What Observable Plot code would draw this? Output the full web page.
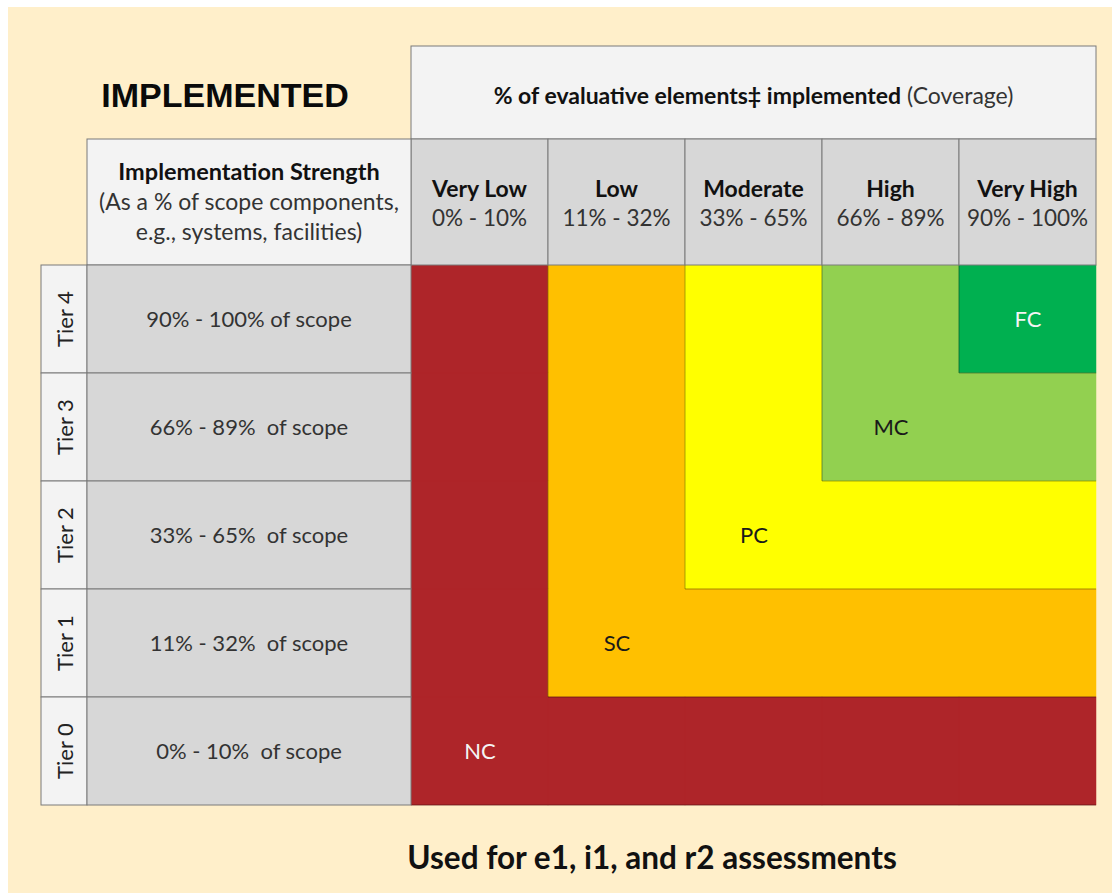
<!DOCTYPE html>
<html><head><meta charset="utf-8">
<script src="https://cdn.jsdelivr.net/npm/d3@7"></script>
<script src="https://cdn.jsdelivr.net/npm/@observablehq/plot@0.6"></script>
<style>
html,body{margin:0;padding:0;background:#fff;}
#chart svg{display:block;}
</style></head><body><div id="chart"></div>
<script>
// ---- data ----
const title = "IMPLEMENTED";
const coverageTitleBold = "% of evaluative elements\u2021 implemented";
const coverageTitleRegular = " (Coverage)";
const strengthTitle = ["Implementation Strength", "(As a % of scope components,", "e.g., systems, facilities)"];
const caption = "Used for e1, i1, and r2 assessments";
const coverage = ["Very Low", "Low", "Moderate", "High", "Very High"];
const coverageRanges = ["0% - 10%", "11% - 32%", "33% - 65%", "66% - 89%", "90% - 100%"];
const tiers = ["Tier 4", "Tier 3", "Tier 2", "Tier 1", "Tier 0"];
const scopeRanges = ["90% - 100% of scope", "66% - 89%  of scope", "33% - 65%  of scope", "11% - 32%  of scope", "0% - 10%  of scope"];
const ratingCodes = ["NC", "SC", "PC", "MC", "FC"];
const ratingGrid = [
  ["NC", "SC", "PC", "MC", "FC"],
  ["NC", "SC", "PC", "MC", "MC"],
  ["NC", "SC", "PC", "PC", "PC"],
  ["NC", "SC", "SC", "SC", "SC"],
  ["NC", "NC", "NC", "NC", "NC"]
];
const ratingLabelCoverage = ["Very Low", "Low", "Moderate", "High", "Very High"];
const ratingLabelTier = ["Tier 0", "Tier 1", "Tier 2", "Tier 3", "Tier 4"];

// ---- styles ----
const ratingColors = ["#AE2529", "#FFC000", "#FFFF00", "#92D050", "#00B050"];
const FONT = "Lato, 'Open Sans', sans-serif";
const BEIGE = "#FFEFCA", LIGHT = "#F3F3F3", GRAY = "#D7D7D7", LINE = "#7a7a7a";

const cells = tiers.flatMap((t, i) => coverage.map((c, j) => ({tier: t, coverage: c, rating: ratingGrid[i][j]})));
const labels = ratingCodes.map((r, i) => ({rating: r, coverage: ratingLabelCoverage[i], tier: ratingLabelTier[i]}));
const whiteText = new Set(["NC", "FC"]);

const plot = Plot.plot({
  width: 1112, height: 893,
  marginLeft: 409, marginRight: 15, marginTop: 263, marginBottom: 87,
  style: {background: "transparent", fontFamily: FONT},
  x: {type: "band", domain: coverage, padding: 0, axis: null},
  y: {type: "band", domain: tiers, padding: 0, axis: null},
  color: {type: "ordinal", domain: ratingCodes, range: ratingColors},
  marks: [
    Plot.cell(cells, {x: "coverage", y: "tier", fill: "rating", stroke: "rating", strokeWidth: 0.5, inset: 0}),
    Plot.text(labels, {filter: d => whiteText.has(d.rating), x: "coverage", y: "tier", text: "rating", fill: "#f4f4f4", fontSize: 22}),
    Plot.text(labels, {filter: d => !whiteText.has(d.rating), x: "coverage", y: "tier", text: "rating", fill: "#1a1a1a", fontSize: 22})
  ]
});
document.getElementById("chart").append(plot);

// ---- table headers and region edges placed with the plot's own scales ----
const svg = d3.select(plot);
const xs = plot.scale("x"), ys = plot.scale("y");
const bw = xs.bandwidth, bh = ys.bandwidth;
const gridLeft = xs.apply(coverage[0]);
const gridRight = xs.apply(coverage[coverage.length - 1]) + bw;
const gridTop = ys.apply(tiers[0]);
const gridBottom = ys.apply(tiers[tiers.length - 1]) + bh;
const headTop = 46, subTop = 139, labelLeft = 87, tierLeft = 41;

svg.insert("rect", ":first-child")
  .attr("x", 8).attr("y", 7).attr("width", 1104).attr("height", 886).attr("fill", BEIGE);

// region boundaries (where neighbouring cells differ)
const edges = svg.append("g").attr("stroke", "rgba(0,0,0,0.35)").attr("stroke-width", 1);
tiers.forEach((t, i) => coverage.forEach((c, j) => {
  const x = xs.apply(c), y = ys.apply(t);
  if (j > 0 && ratingGrid[i][j - 1] !== ratingGrid[i][j])
    edges.append("line").attr("x1", x).attr("x2", x).attr("y1", y).attr("y2", y + bh);
  if (i < tiers.length - 1 && ratingGrid[i + 1][j] !== ratingGrid[i][j])
    edges.append("line").attr("x1", x).attr("x2", x + bw).attr("y1", y + bh).attr("y2", y + bh);
}));
edges.append("line").attr("x1", gridLeft).attr("x2", gridRight).attr("y1", gridBottom).attr("y2", gridBottom);

const g = svg.append("g").attr("font-family", FONT);

// title
g.append("text").attr("x", 225).attr("y", 95).attr("text-anchor", "middle").attr("dominant-baseline", "central")
  .attr("font-family", "'Liberation Sans', Arial, sans-serif").attr("font-weight", "bold").attr("font-size", 34)
  .attr("fill", "#0a0a0a").text(title);

// coverage header box
g.append("rect").attr("x", gridLeft).attr("y", headTop).attr("width", gridRight - gridLeft).attr("height", subTop - headTop)
  .attr("fill", LIGHT).attr("stroke", LINE).attr("stroke-width", 1);
const ct = g.append("text").attr("x", (gridLeft + gridRight) / 2).attr("y", (headTop + subTop) / 2 + 2)
  .attr("text-anchor", "middle").attr("dominant-baseline", "central").attr("font-size", 23);
ct.append("tspan").attr("font-weight", "bold").attr("fill", "#111").text(coverageTitleBold);
ct.append("tspan").attr("fill", "#333").text(coverageTitleRegular);

// column sub-headers
coverage.forEach((c, i) => {
  const x = xs.apply(c);
  g.append("rect").attr("x", x).attr("y", subTop).attr("width", bw).attr("height", gridTop - subTop)
    .attr("fill", GRAY).attr("stroke", LINE).attr("stroke-width", 1);
  const cy = (subTop + gridTop) / 2;
  g.append("text").attr("x", x + bw / 2).attr("y", cy - 14).attr("text-anchor", "middle").attr("dominant-baseline", "central")
    .attr("font-size", 23).attr("font-weight", "bold").attr("fill", "#111").text(c);
  g.append("text").attr("x", x + bw / 2).attr("y", cy + 15).attr("text-anchor", "middle").attr("dominant-baseline", "central")
    .attr("font-size", 22.5).attr("fill", "#333").text(coverageRanges[i]);
});

// implementation strength header
g.append("rect").attr("x", labelLeft).attr("y", subTop).attr("width", gridLeft - labelLeft).attr("height", gridTop - subTop)
  .attr("fill", LIGHT).attr("stroke", LINE).attr("stroke-width", 1);
strengthTitle.forEach((s, i) => {
  g.append("text").attr("x", (labelLeft + gridLeft) / 2).attr("y", (subTop + gridTop) / 2 - 31 + i * 30)
    .attr("text-anchor", "middle").attr("dominant-baseline", "central").attr("font-size", i === 0 ? 23.5 : 23)
    .attr("font-weight", i === 0 ? "bold" : "normal").attr("fill", i === 0 ? "#111" : "#333").text(s);
});

// tier rows
tiers.forEach((t, i) => {
  const y = ys.apply(t);
  g.append("rect").attr("x", tierLeft).attr("y", y).attr("width", labelLeft - tierLeft).attr("height", bh)
    .attr("fill", LIGHT).attr("stroke", LINE).attr("stroke-width", 1);
  g.append("rect").attr("x", labelLeft).attr("y", y).attr("width", gridLeft - labelLeft).attr("height", bh)
    .attr("fill", GRAY).attr("stroke", LINE).attr("stroke-width", 1);
  g.append("text").attr("transform", `translate(${(tierLeft + labelLeft) / 2},${y + bh / 2}) rotate(-90)`)
    .attr("text-anchor", "middle").attr("dominant-baseline", "central").attr("font-size", 22).attr("fill", "#222").text(t);
  g.append("text").attr("x", (labelLeft + gridLeft) / 2).attr("y", y + bh / 2 - 1)
    .attr("text-anchor", "middle").attr("dominant-baseline", "central").attr("font-size", 22)
    .attr("fill", "#333").style("white-space", "pre").text(scopeRanges[i]);
});

// caption
g.append("text").attr("x", 652).attr("y", 857).attr("text-anchor", "middle").attr("dominant-baseline", "central")
  .attr("font-size", 31.5).attr("font-weight", "bold").attr("fill", "#111").text(caption);
</script></body></html>
